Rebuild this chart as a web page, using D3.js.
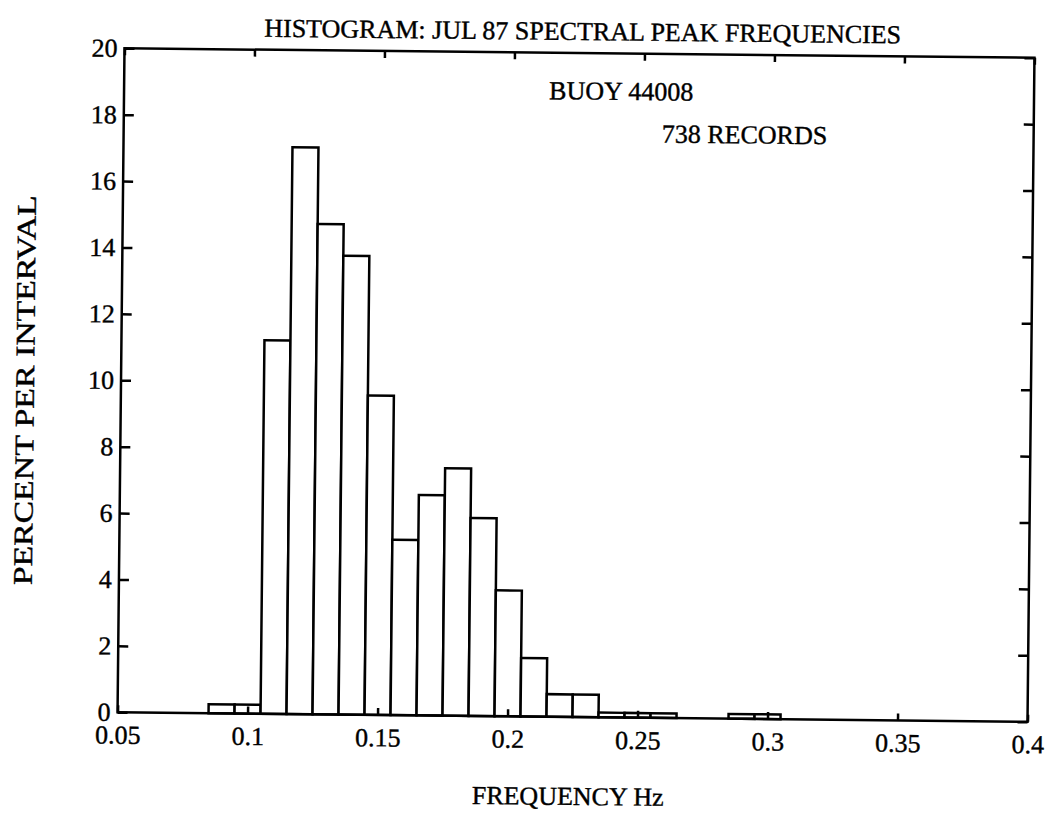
<!DOCTYPE html>
<html lang="en">
<head>
<meta charset="UTF-8">
<title>Histogram</title>
<script src="https://cdnjs.cloudflare.com/ajax/libs/d3/7.8.5/d3.min.js"></script>
<style>
  body { margin: 0; background: #fff; }
  svg text { font-family: "Liberation Serif", "Times New Roman", serif; fill: #000; stroke: #000; stroke-width: 0.4px; }
</style>
</head>
<body>
<div class="chart"></div>
<script>
// left edge of each 0.01 Hz bin and the percentage of records that fell in it
const binLeft = [0.085, 0.095, 0.105, 0.115, 0.125, 0.135, 0.145, 0.155, 0.165, 0.175, 0.185,
                 0.195, 0.205, 0.215, 0.225, 0.235, 0.245, 0.255, 0.265, 0.275, 0.285, 0.295]
const percent = [0.27, 0.27, 11.25, 17.07, 14.77, 13.82, 9.62, 5.28, 6.64, 7.45, 5.96,
                 3.79, 1.76, 0.68, 0.68, 0.14, 0.14, 0.14, 0, 0, 0.14, 0.14]
const binWidth = 0.01

const xTicks = [0.05, 0.1, 0.15, 0.2, 0.25, 0.3, 0.35, 0.4]
const xTickLabels = ['0.05', '0.1', '0.15', '0.2', '0.25', '0.3', '0.35', '0.4']
const yTicks = [0, 2, 4, 6, 8, 10, 12, 14, 16, 18, 20]

const title = 'HISTOGRAM: JUL 87 SPECTRAL PEAK FREQUENCIES'
const xTitle = 'FREQUENCY Hz'
const yTitle = 'PERCENT PER INTERVAL'
const notes = ['BUOY 44008', '738 RECORDS']

const width = 1054
const height = 815
const plot = { left: 121, right: 1031, top: 53, bottom: 717 }
const lw = 2.5

const svg = d3.select('.chart')
  .append('svg')
  .attr('width', width)
  .attr('height', height)

// the scanned page sits a little crooked
const page = svg.append('g')
  .attr('transform', `rotate(0.6, ${(plot.left + plot.right) / 2}, ${(plot.top + plot.bottom) / 2})`)

const x = d3.scaleLinear().domain([0.05, 0.4]).range([plot.left, plot.right])
const y = d3.scaleLinear().domain([0, 20]).range([plot.bottom, plot.top])

// bars
page.append('g')
  .selectAll('rect')
  .data(percent)
  .join('rect')
  .attr('x', (d, i) => x(binLeft[i]))
  .attr('width', (d, i) => x(binLeft[i] + binWidth) - x(binLeft[i]))
  .attr('y', d => y(d))
  .attr('height', d => y(0) - y(d))
  .attr('fill', '#fff')
  .attr('stroke', '#000')
  .attr('stroke-width', lw)

function styleAxis(g) {
  g.select('.domain').remove()
  g.selectAll('.tick line').attr('stroke-width', lw)
  g.attr('font-size', 26)
}

page.append('g')
  .attr('transform', `translate(0, ${plot.bottom})`)
  .call(d3.axisBottom(x).tickValues(xTicks).tickSizeInner(-7).tickSizeOuter(0)
    .tickPadding(13).tickFormat((d, i) => xTickLabels[i]))
  .call(styleAxis)

page.append('g')
  .attr('transform', `translate(0, ${plot.top})`)
  .call(d3.axisTop(x).tickValues(xTicks).tickSizeInner(-7).tickSizeOuter(0).tickFormat(''))
  .call(styleAxis)

page.append('g')
  .attr('transform', `translate(${plot.left}, 0)`)
  .call(d3.axisLeft(y).tickValues(yTicks).tickSizeInner(-10).tickSizeOuter(0).tickPadding(7))
  .call(styleAxis)

page.append('g')
  .attr('transform', `translate(${plot.right}, 0)`)
  .call(d3.axisRight(y).tickValues(yTicks).tickSizeInner(-10).tickSizeOuter(0).tickFormat(''))
  .call(styleAxis)

// frame
page.append('rect')
  .attr('x', plot.left)
  .attr('y', plot.top)
  .attr('width', plot.right - plot.left)
  .attr('height', plot.bottom - plot.top)
  .attr('fill', 'none')
  .attr('stroke', '#000')
  .attr('stroke-width', lw)

// texts
page.append('text')
  .attr('x', 579)
  .attr('y', 40)
  .attr('text-anchor', 'middle')
  .attr('font-size', 26)
  .text(title)

page.append('text')
  .attr('x', 572)
  .attr('y', 805)
  .attr('text-anchor', 'middle')
  .attr('font-size', 26)
  .text(xTitle)

page.append('text')
  .attr('transform', 'translate(34, 396) rotate(-90)')
  .attr('text-anchor', 'middle')
  .attr('font-size', 27)
  .attr('textLength', 390)
  .attr('lengthAdjust', 'spacingAndGlyphs')
  .text(yTitle)

page.append('text')
  .attr('x', x(0.2135))
  .attr('y', y(18.6))
  .attr('font-size', 26)
  .text(notes[0])

page.append('text')
  .attr('x', x(0.257))
  .attr('y', y(17.33))
  .attr('font-size', 26)
  .text(notes[1])
</script>
</body>
</html>
